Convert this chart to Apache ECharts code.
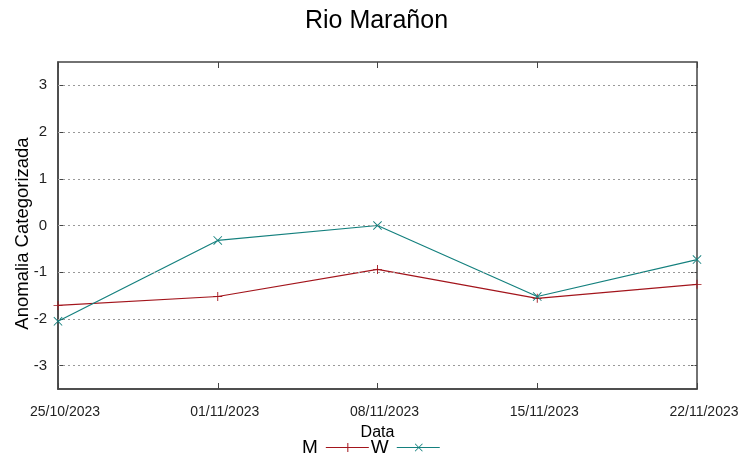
<!DOCTYPE html>
<html><head><meta charset="utf-8">
<script src="https://cdn.jsdelivr.net/npm/echarts@6/dist/echarts.min.js"></script>
<style>html,body{margin:0;padding:0;background:#fff}#c{width:753px;height:459px}</style>
</head><body><div id="c"></div>
<script>
const categories = ['25/10/2023','01/11/2023','08/11/2023','15/11/2023','22/11/2023'];
const seriesM = [-1.71, -1.52, -0.94, -1.56, -1.26];
const seriesW = [-2.05, -0.32, 0.0, -1.52, -0.73];
const yTicks = [-3, -2, -1, 0, 1, 2, 3];

const plusPath = 'path://M0,4.5h10v1h-10z M4.5,0h1v10h-1z';
const crossPath = 'path://M0,0.7L0.7,0L10,9.3L9.3,10z M9.3,0L10,0.7L0.7,10L0,9.3z';
const legPlus = 'path://M0,4.4h43v1.2h-43z M21.5,0.5h1v9h-1z';
const legCross = 'path://M0,4.4h43v1.2h-43z M18,1.5L18.6,1L26,8.5L25.4,9z M25.4,1L26,1.5L18.6,9L18,8.5z';
const red = '#a3151c', teal = '#14807e';
const font = 'Liberation Sans, Arial, sans-serif';

const chart = echarts.init(document.getElementById('c'));
chart.setOption({
  animation: false,
  backgroundColor: '#fff',
  title: { text: 'Rio Marañon', left: 'center', top: 4, textStyle: { fontFamily: font, fontSize: 25, fontWeight: 'normal', color: '#000' } },
  legend: {
    top: 438, left: 302, align: 'right', itemWidth: 43, itemHeight: 10, itemGap: 2, padding: 0,
    textStyle: { fontFamily: font, fontSize: 19, color: '#000', padding: [0, 3, 0, 0] },
    data: [
      { name: 'M', icon: legPlus, itemStyle: { color: red } },
      { name: 'W', icon: legCross, itemStyle: { color: teal } }
    ]
  },
  grid: { left: 58, right: 56, top: 62, bottom: 70, outerBoundsMode: 'none', containLabel: false, show: true, borderColor: '#444', borderWidth: 1.5 },
  xAxis: [{
    type: 'category', data: categories, boundaryGap: false,
    name: 'Data', nameLocation: 'middle', nameGap: 36, nameMoveOverlap: false,
    nameTextStyle: { fontFamily: font, fontSize: 16, color: '#000' },
    axisLine: { onZero: false, lineStyle: { color: '#444', width: 1.5 } },
    axisTick: { inside: true, length: 6, lineStyle: { color: '#444' } },
    axisLabel: { fontFamily: font, fontSize: 14, color: '#222', margin: 16, padding: [0, 0, 0, 14], showMinLabel: true, showMaxLabel: true, interval: 0 },
    splitLine: { show: false }
  }, {
    type: 'category', data: categories, boundaryGap: false, position: 'top',
    axisLine: { show: false, onZero: false }, axisTick: { inside: true, length: 6, lineStyle: { color: '#444' } },
    axisLabel: { show: false }, splitLine: { show: false }
  }],
  yAxis: [{
    type: 'value', min: -3.5, max: 3.5,
    name: 'Anomalia Categorizada', nameLocation: 'middle', nameGap: 26, nameMoveOverlap: false,
    nameTextStyle: { fontFamily: font, fontSize: 18.5, color: '#000', padding: [0, 16, 0, 0] },
    axisLine: { show: true, onZero: false, lineStyle: { color: '#444', width: 1.5 } },
    axisTick: { show: true, inside: true, length: 6, customValues: yTicks, lineStyle: { color: '#444' } },
    axisLabel: { fontFamily: font, fontSize: 15, color: '#222', margin: 11, customValues: yTicks },
    splitLine: { show: false }
  }, {
    type: 'value', min: -3.5, max: 3.5, position: 'right',
    axisLine: { show: false, onZero: false },
    axisTick: { show: true, inside: true, length: 6, customValues: yTicks, lineStyle: { color: '#444' } },
    axisLabel: { show: false, customValues: yTicks },
    splitLine: { show: false }
  }],
  series: [{
    name: 'M', type: 'line', data: seriesM, color: red,
    symbol: plusPath, symbolSize: 9, showAllSymbol: true,
    lineStyle: { color: red, width: 1.2 }, itemStyle: { color: red },
    markLine: {
      silent: true, symbol: 'none', label: { show: false },
      lineStyle: { color: '#999', type: [2, 3], width: 1 },
      data: yTicks.map(v => ({ yAxis: v }))
    },
    z: 3
  }, {
    name: 'W', type: 'line', data: seriesW, color: teal,
    symbol: crossPath, symbolSize: 9, showAllSymbol: true,
    lineStyle: { color: teal, width: 1.2 }, itemStyle: { color: teal },
    z: 4
  }]
});
</script></body></html>
